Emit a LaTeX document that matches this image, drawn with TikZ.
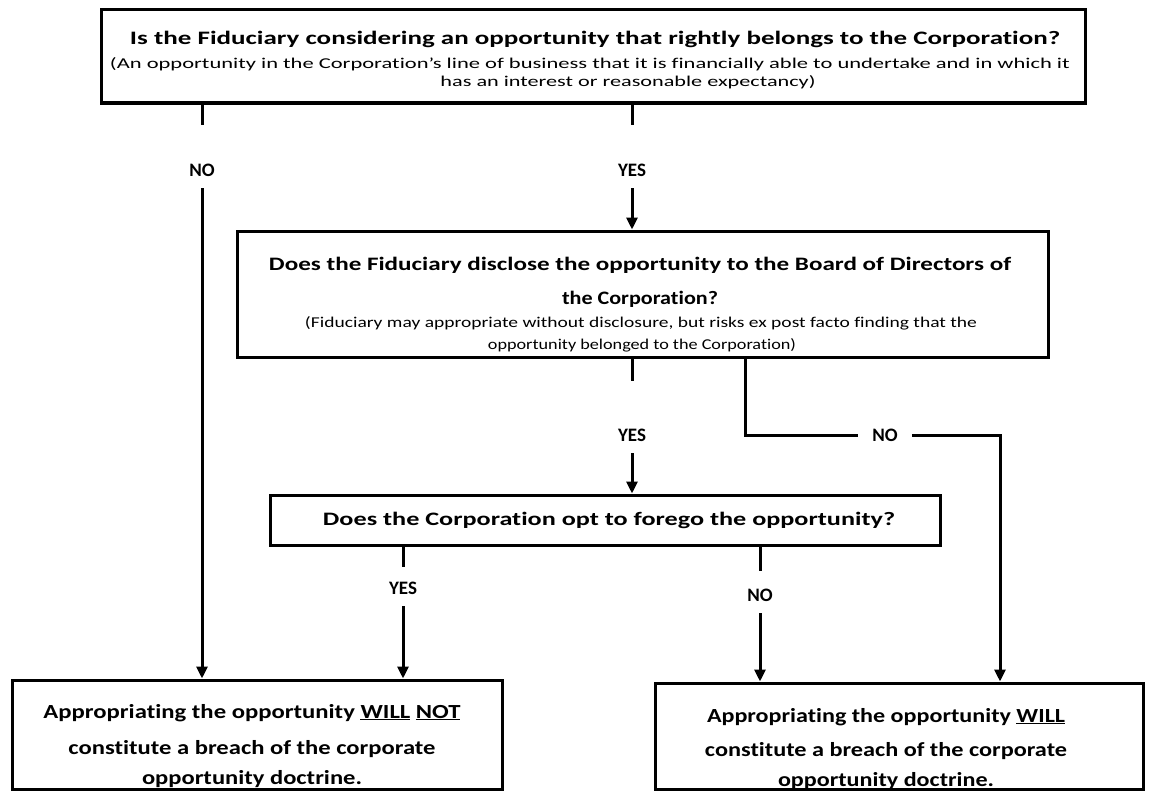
\documentclass[tikz,border=0pt]{standalone}
\usepackage{fontspec}
\setmainfont{Carlito}[Ligatures={TeX,NoCommon}]
\usepackage{graphicx}
\usetikzlibrary{arrows.meta}
\newcommand\fitw[2]{\resizebox{#1pt}{\height}{#2}}
\newcommand\ulx[1]{\underline{#1}}
\begin{document}
\begin{tikzpicture}[x=1pt,y=-1pt,
  box/.style={draw,line width=3pt,inner sep=0pt},
  ttl/.style={font=\fontsize{19}{19}\selectfont\bfseries,inner sep=0pt,anchor=base},
  par/.style={font=\fontsize{15}{15}\selectfont,inner sep=0pt,anchor=base},
  res/.style={font=\fontsize{20}{20}\selectfont\bfseries,inner sep=0pt,anchor=base},
  lbl/.style={font=\fontsize{19}{19}\selectfont\bfseries,inner sep=0pt},
  ln/.style={line width=3pt},
  arr/.style={line width=3pt,-{Triangle[width=11pt,length=12pt]}}]
\useasboundingbox (0,0) rectangle (1160,792);
% boxes
\node[box,minimum width=984pt,minimum height=93pt] (b1) at (593,56.5) {};
\node[box,minimum width=811pt,minimum height=126pt] (b2) at (642.5,294) {};
\node[box,minimum width=670pt,minimum height=50pt] (b3) at (605,520) {};
\node[box,minimum width=490pt,minimum height=109pt] (bl) at (257,734.5) {};
\node[box,minimum width=488pt,minimum height=106pt] (br) at (899,736) {};
% texts box 1
\node[ttl] (t11) at (595,45) {\fitw{930}{Is the Fiduciary considering an opportunity that rightly belongs to the Corporation?}};
\node[par] (t12) at (590,69) {\fitw{960}{(An opportunity in the Corporation’s line of business that it is financially able to undertake and in which it}};
\node[par] (t13) at (628,87) {\fitw{375}{has an interest or reasonable expectancy)}};
% texts box 2
\node[ttl] (t21) at (640,270) {\fitw{742}{Does the Fiduciary disclose the opportunity to the Board of Directors of}};
\node[ttl] (t22) at (640,304) {\fitw{156}{the Corporation?}};
\node[par] (t23) at (641,327) {\fitw{672}{(Fiduciary may appropriate without disclosure, but risks ex post facto finding that the}};
\node[par] (t24) at (642,349) {\fitw{308}{opportunity belonged to the Corporation)}};
% box 3
\node[ttl] (t31) at (609,525) {\fitw{572}{Does the Corporation opt to forego the opportunity?}};
% bottom left
\node[res] (tl1) at (252,718) {\fitw{417}{Appropriating the opportunity \ulx{WILL} \ulx{NOT}}};
\node[res] (tl2) at (252,754) {\fitw{367}{constitute a breach of the corporate}};
\node[res] (tl3) at (252,784) {\fitw{220}{opportunity doctrine.}};
% bottom right
\node[res] (tr1) at (886,722) {\fitw{358}{Appropriating the opportunity \ulx{WILL}}};
\node[res] (tr2) at (886,756) {\fitw{362}{constitute a breach of the corporate}};
\node[res] (tr3) at (886,786) {\fitw{216}{opportunity doctrine.}};
% labels
\node[lbl] (no1) at (202,170) {NO};
\node[lbl] (yes1) at (632,170) {YES};
\node[lbl] (yes2) at (632,435) {YES};
\node[lbl] (no2) at (885,435) {NO};
\node[lbl] (yes3) at (403,588) {YES};
\node[lbl] (no3) at (760,595) {NO};
\coordinate (c1) at (745,435);
\coordinate (c2) at (1000,435);
% connectors
\draw[ln] (b1.south -| no1) -- ([yshift=-20pt]b1.south -| no1);
\draw[arr] ([yshift=-12pt]no1.south) -- (bl.north -| no1);
\draw[ln] (b1.south -| yes1) -- ([yshift=-20pt]b1.south -| yes1);
\draw[arr] ([yshift=-12pt]yes1.south) -- (b2.north -| yes1);
\draw[ln] (b2.south -| yes2) -- ([yshift=-22pt]b2.south -| yes2);
\draw[arr] ([yshift=-12pt]yes2.south) -- (b3.north -| yes2);
\draw[ln] (b2.south -| c1) -- (c1) -- ([xshift=-14pt]no2.west);
\draw[arr] ([xshift=14pt]no2.east) -- (c2) -- (br.north -| c2);
\draw[ln] (b3.south -| yes3) -- ([yshift=-20pt]b3.south -| yes3);
\draw[arr] ([yshift=-12pt]yes3.south) -- (bl.north -| yes3);
\draw[ln] (b3.south -| no3) -- ([yshift=-24pt]b3.south -| no3);
\draw[arr] ([yshift=-12pt]no3.south) -- (br.north -| no3);
\end{tikzpicture}
\end{document}
